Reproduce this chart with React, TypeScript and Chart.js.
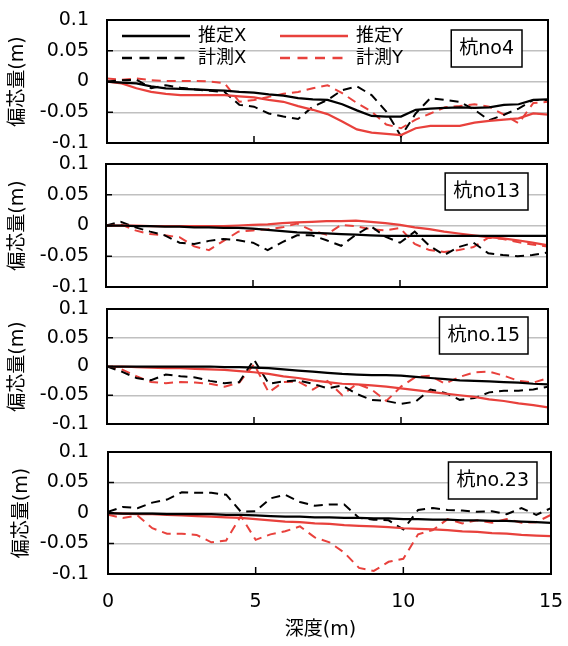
import React, { useEffect, useRef } from 'react';
import { Chart, registerables } from 'chart.js';

Chart.register(...registerables);

// ---------------- data ----------------
const depths = [0, 0.5, 1, 1.5, 2, 2.5, 3, 3.5, 4, 4.5, 5, 5.5, 6, 6.5, 7, 7.5, 8, 8.5, 9, 9.5, 10, 10.5, 11, 11.5, 12, 12.5, 13, 13.5, 14, 14.5, 15];

const legendLabels = ['推定X', '推定Y', '計測X', '計測Y'];
const panelLabels = ['杭no4', '杭no13', '杭no.15', '杭no.23'];
const yTickLabels = ['-0.1', '-0.05', '0', '0.05', '0.1'];
const xTickLabels = ['0', '5', '10', '15'];
const yTitle = '偏芯量(m)';
const xTitle = '深度(m)';

// 杭no4
const estX1 = [0, -0.002, -0.003, -0.008, -0.011, -0.012, -0.013, -0.014, -0.015, -0.017, -0.018, -0.021, -0.023, -0.027, -0.029, -0.030, -0.037, -0.047, -0.056, -0.057, -0.057, -0.046, -0.044, -0.043, -0.042, -0.043, -0.042, -0.038, -0.037, -0.030, -0.029];
const estY1 = [0, -0.003, -0.011, -0.017, -0.020, -0.022, -0.022, -0.022, -0.022, -0.024, -0.026, -0.030, -0.033, -0.040, -0.046, -0.053, -0.065, -0.078, -0.083, -0.085, -0.087, -0.076, -0.072, -0.072, -0.072, -0.067, -0.064, -0.062, -0.060, -0.052, -0.054];
const measX1 = [0, 0.002, 0.003, -0.011, -0.006, -0.010, -0.013, -0.015, -0.017, -0.038, -0.041, -0.052, -0.057, -0.061, -0.041, -0.030, -0.014, -0.008, -0.022, -0.049, -0.089, -0.052, -0.027, -0.030, -0.033, -0.046, -0.063, -0.054, -0.044, -0.030, -0.030];
const measY1 = [0.005, 0.003, 0.005, 0.002, 0.001, 0.001, 0.001, 0, -0.003, -0.033, -0.030, -0.025, -0.020, -0.017, -0.011, -0.006, -0.019, -0.035, -0.049, -0.070, -0.076, -0.062, -0.052, -0.042, -0.040, -0.037, -0.041, -0.054, -0.068, -0.035, -0.033];

// 杭no13
const estX2 = [0, 0, -0.001, -0.001, -0.002, -0.002, -0.003, -0.003, -0.004, -0.004, -0.005, -0.007, -0.009, -0.011, -0.012, -0.013, -0.014, -0.015, -0.016, -0.017, -0.017, -0.017, -0.017, -0.017, -0.017, -0.017, -0.017, -0.017, -0.017, -0.017, -0.017];
const estY2 = [0, 0, 0, -0.001, -0.001, -0.001, -0.001, -0.001, -0.001, 0, 0.001, 0.002, 0.004, 0.005, 0.006, 0.007, 0.007, 0.008, 0.006, 0.004, 0.001, -0.003, -0.006, -0.010, -0.013, -0.016, -0.019, -0.021, -0.024, -0.028, -0.032];
const measX2 = [0, 0.006, -0.003, -0.010, -0.016, -0.028, -0.030, -0.025, -0.022, -0.024, -0.028, -0.040, -0.027, -0.016, -0.016, -0.024, -0.033, -0.015, -0.001, -0.018, -0.028, -0.010, -0.033, -0.048, -0.035, -0.028, -0.045, -0.048, -0.050, -0.048, -0.044];
const measY2 = [-0.001, 0.002, -0.008, -0.014, -0.016, -0.019, -0.034, -0.040, -0.025, -0.010, -0.008, -0.006, -0.003, 0.003, -0.008, -0.015, 0.001, -0.001, -0.006, -0.008, -0.004, -0.030, -0.040, -0.043, -0.040, -0.035, -0.020, -0.022, -0.027, -0.031, -0.034];

// 杭no.15
const estX3 = [0, 0, 0, 0, 0, 0, 0, 0, -0.001, -0.001, -0.002, -0.003, -0.005, -0.007, -0.009, -0.011, -0.013, -0.014, -0.015, -0.015, -0.016, -0.018, -0.020, -0.022, -0.024, -0.025, -0.026, -0.027, -0.028, -0.030, -0.031];
const estY3 = [0, 0, -0.001, -0.002, -0.003, -0.003, -0.004, -0.005, -0.006, -0.008, -0.010, -0.013, -0.017, -0.020, -0.024, -0.027, -0.030, -0.031, -0.033, -0.035, -0.038, -0.041, -0.044, -0.047, -0.050, -0.053, -0.057, -0.060, -0.064, -0.067, -0.071];
const measX3 = [0, -0.009, -0.020, -0.024, -0.014, -0.017, -0.019, -0.025, -0.029, -0.027, 0.012, -0.030, -0.026, -0.024, -0.030, -0.038, -0.033, -0.048, -0.058, -0.060, -0.065, -0.061, -0.040, -0.046, -0.058, -0.055, -0.045, -0.042, -0.042, -0.040, -0.035];
const measY3 = [0, -0.005, -0.017, -0.027, -0.029, -0.027, -0.028, -0.030, -0.035, -0.028, 0.004, -0.045, -0.027, -0.026, -0.040, -0.025, -0.050, -0.030, -0.040, -0.060, -0.035, -0.018, -0.016, -0.030, -0.018, -0.010, -0.009, -0.016, -0.025, -0.028, -0.020];

// 杭no.23
const estX4 = [0, -0.001, -0.001, -0.001, -0.002, -0.002, -0.002, -0.002, -0.003, -0.003, -0.004, -0.005, -0.006, -0.006, -0.007, -0.007, -0.008, -0.008, -0.009, -0.009, -0.010, -0.010, -0.011, -0.011, -0.012, -0.012, -0.013, -0.013, -0.014, -0.015, -0.016];
const estY4 = [0, -0.001, -0.002, -0.002, -0.003, -0.004, -0.005, -0.006, -0.007, -0.008, -0.010, -0.012, -0.014, -0.015, -0.017, -0.018, -0.020, -0.021, -0.022, -0.023, -0.025, -0.026, -0.027, -0.028, -0.030, -0.031, -0.033, -0.034, -0.036, -0.037, -0.038];
const measX4 = [0.002, 0.010, 0.008, 0.017, 0.022, 0.034, 0.033, 0.033, 0.030, 0.002, 0.003, 0.024, 0.030, 0.018, 0.012, 0.014, 0.014, -0.008, -0.011, -0.012, -0.027, 0.005, 0.008, 0.005, 0.004, 0.002, 0.003, -0.002, 0.008, -0.003, 0.008];
const measY4 = [-0.003, -0.008, -0.004, -0.025, -0.034, -0.034, -0.036, -0.048, -0.045, -0.005, -0.044, -0.035, -0.030, -0.022, -0.040, -0.048, -0.065, -0.090, -0.095, -0.080, -0.075, -0.035, -0.028, -0.010, -0.017, -0.012, -0.016, -0.010, -0.016, -0.015, -0.003];

// ---------------- styling / layout ----------------
const FONT = "'DejaVu Sans', 'Noto Sans CJK JP', sans-serif";
const BLACK = '#000000';
const RED = '#e8413c';
const W = 568;
const H = 646;

const seriesStyles = [
  { color: BLACK, dash: [] as number[], width: 2.25 },
  { color: RED, dash: [] as number[], width: 2.25 },
  { color: BLACK, dash: [9, 6], width: 2 },
  { color: RED, dash: [9, 6], width: 2 },
];

type PanelCfg = {
  top: number; bottom: number; left: number; right: number;
  series: number[][]; label: string; boxInset: number; boxTop: number;
  titleX: number; legend: boolean; xAxis: boolean;
};

const panels: PanelCfg[] = [
  { top: 20, bottom: 143, left: 107, right: 548, series: [estX1, estY1, measX1, measY1], label: panelLabels[0], boxInset: 26, boxTop: 10, titleX: 18, legend: true, xAxis: false },
  { top: 164, bottom: 287, left: 106, right: 547, series: [estX2, estY2, measX2, measY2], label: panelLabels[1], boxInset: 19, boxTop: 9, titleX: 18, legend: false, xAxis: false },
  { top: 309, bottom: 424, left: 107, right: 548, series: [estX3, estY3, measX3, measY3], label: panelLabels[2], boxInset: 20, boxTop: 8, titleX: 18, legend: false, xAxis: false },
  { top: 452, bottom: 574, left: 108, right: 551, series: [estX4, estY4, measX4, measY4], label: panelLabels[3], boxInset: 14, boxTop: 10, titleX: 22, legend: false, xAxis: true },
];

const PAD = 14;

function Panel({ cfg }: { cfg: PanelCfg }) {
  const ref = useRef<HTMLCanvasElement>(null);
  const canvasTop = cfg.top - PAD;
  const canvasBottom = cfg.xAxis ? H : cfg.bottom + PAD;
  const ch = canvasBottom - canvasTop;

  useEffect(() => {
    const datasets = cfg.series.map((vals, i) => ({
      label: legendLabels[i],
      data: depths.map((d, j) => ({ x: d, y: vals[j] })),
      borderColor: seriesStyles[i].color,
      backgroundColor: seriesStyles[i].color,
      borderDash: seriesStyles[i].dash,
      borderWidth: seriesStyles[i].width,
      pointRadius: 0,
      tension: 0,
      fill: false,
      borderCapStyle: 'butt' as const,
    }));

    const decor = {
      id: 'decor',
      afterDatasetsDraw(chart: any) {
        const { ctx, chartArea: a, scales } = chart;
        ctx.save();
        ctx.strokeStyle = '#000';
        ctx.lineWidth = 1.5;
        ctx.setLineDash([]);
        scales.y.ticks.forEach((t: any) => {
          const y = scales.y.getPixelForValue(t.value);
          if (y <= a.top + 1 || y >= a.bottom - 1) return;
          ctx.beginPath();
          ctx.moveTo(a.left, y);
          ctx.lineTo(a.left + 6, y);
          ctx.stroke();
        });
        xTickLabels.forEach((s) => {
          const x = scales.x.getPixelForValue(Number(s));
          if (x <= a.left + 1 || x >= a.right - 1) return;
          ctx.beginPath();
          ctx.moveTo(x, a.bottom);
          ctx.lineTo(x, a.bottom - 7);
          ctx.stroke();
        });
        ctx.lineWidth = 2;
        ctx.strokeRect(a.left, a.top, a.right - a.left, a.bottom - a.top);
        ctx.restore();
      },
      afterDraw(chart: any) {
        const { ctx, chartArea: a } = chart;
        ctx.save();
        ctx.font = `19px ${FONT}`;
        ctx.fillStyle = '#000';
        // label box
        const tw = ctx.measureText(cfg.label).width;
        const bw = tw + 16;
        const bh = 37;
        const bx = a.right - cfg.boxInset - bw;
        const by = a.top + cfg.boxTop;
        ctx.fillStyle = '#fff';
        ctx.fillRect(bx, by, bw, bh);
        ctx.strokeStyle = '#000';
        ctx.lineWidth = 1.5;
        ctx.strokeRect(bx, by, bw, bh);
        ctx.fillStyle = '#000';
        ctx.textAlign = 'center';
        ctx.textBaseline = 'middle';
        ctx.fillText(cfg.label, bx + bw / 2, by + bh / 2 + 1);

        // y title
        ctx.save();
        ctx.translate(cfg.titleX, (a.top + a.bottom) / 2);
        ctx.rotate(-Math.PI / 2);
        ctx.textAlign = 'center';
        ctx.textBaseline = 'middle';
        ctx.fillText(yTitle, 0, 0);
        ctx.restore();

        // x title
        if (cfg.xAxis) {
          ctx.textAlign = 'center';
          ctx.textBaseline = 'middle';
          ctx.fillText(xTitle, (a.left + a.right) / 2 - 9, a.bottom + 56);
        }

        // legend
        if (cfg.legend) {
          const ds = chart.data.datasets;
          const cols = [a.left + 15, a.left + 173];
          const rows = [a.top + 16, a.top + 38];
          const lineLen = 68;
          ds.forEach((d: any, i: number) => {
            const cx = cols[i % 2];
            const cy = rows[Math.floor(i / 2)];
            ctx.save();
            ctx.strokeStyle = d.borderColor;
            ctx.lineWidth = 2.5;
            ctx.setLineDash(d.borderDash && d.borderDash.length ? [10, 7.5] : []);
            ctx.beginPath();
            ctx.moveTo(cx, cy);
            ctx.lineTo(cx + lineLen, cy);
            ctx.stroke();
            ctx.restore();
            ctx.font = `18px ${FONT}`;
            ctx.fillStyle = '#000';
            ctx.textAlign = 'left';
            ctx.textBaseline = 'middle';
            ctx.fillText(d.label, cx + lineLen + 8, cy);
          });
        }
        ctx.restore();
      },
    };

    const yLabel = (v: any) => {
      const idx = Math.round((Number(v) + 0.1) / 0.05);
      return yTickLabels[idx] ?? '';
    };
    const xLabel = (v: any) => {
      const idx = Math.round(Number(v) / 5);
      return xTickLabels[idx] ?? '';
    };

    const chart = new Chart(ref.current as HTMLCanvasElement, {
      type: 'line',
      data: { datasets } as any,
      options: {
        responsive: false,
        animation: false,
        events: [],
        layout: { padding: { left: 0, right: W - cfg.right, top: PAD, bottom: cfg.xAxis ? 0 : PAD } },
        plugins: { legend: { display: false }, tooltip: { enabled: false }, title: { display: false } },
        scales: {
          x: {
            type: 'linear',
            min: 0,
            max: 15,
            display: cfg.xAxis,
            grid: { display: false, drawTicks: false },
            border: { display: false },
            ticks: {
              stepSize: 5,
              padding: 17,
              autoSkip: false,
              maxRotation: 0,
              color: '#000',
              font: { family: FONT, size: 19 },
              callback: xLabel,
            },
            afterFit: (s: any) => {
              if (cfg.xAxis) s.height = H - cfg.bottom;
              else s.height = 0;
              s.paddingLeft = 0;
              s.paddingRight = 0;
            },
          },
          y: {
            type: 'linear',
            min: -0.1,
            max: 0.1,
            grid: { color: '#c0c0c0', lineWidth: 1.5, drawTicks: false },
            border: { display: false },
            ticks: {
              stepSize: 0.05,
              padding: cfg.left - 89,
              autoSkip: false,
              color: '#000',
              font: { family: FONT, size: 19 },
              callback: yLabel,
            },
            afterFit: (s: any) => {
              s.width = cfg.left;
              s.paddingTop = 0;
              s.paddingBottom = 0;
            },
          },
        },
      } as any,
      plugins: [decor],
    });
    return () => chart.destroy();
  }, []);

  return (
    <canvas
      ref={ref}
      width={W}
      height={ch}
      style={{ position: 'absolute', left: 0, top: canvasTop, width: W, height: ch }}
    />
  );
}

export default function App() {
  return (
    <div style={{ position: 'fixed', left: 0, top: 0, width: W, height: H, background: '#fff', overflow: 'hidden' }}>
      {panels.map((p, i) => (
        <Panel key={i} cfg={p} />
      ))}
    </div>
  );
}
